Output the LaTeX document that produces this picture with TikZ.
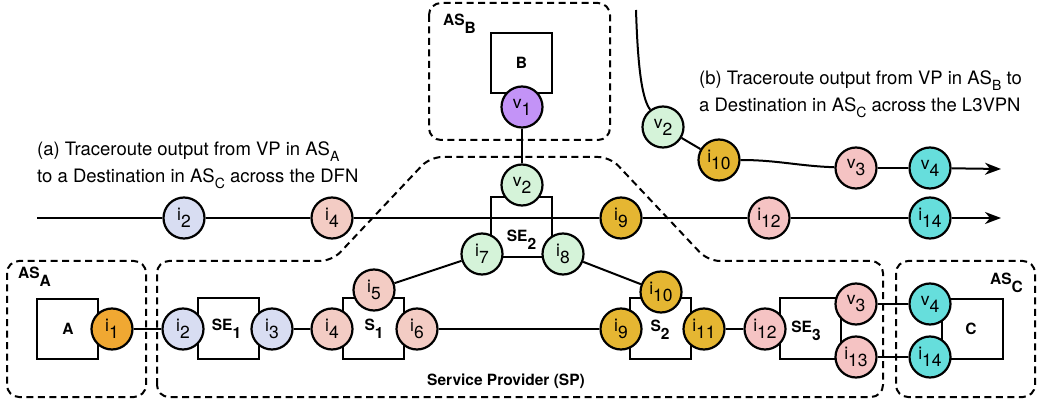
\documentclass[tikz,border=0pt]{standalone}
\usepackage{fontspec}
\setmainfont{TeX Gyre Heros}
\usetikzlibrary{arrows.meta}
\definecolor{cOrange}{HTML}{F0A832}
\definecolor{cBlue}{HTML}{D8DDF2}
\definecolor{cSalmon}{HTML}{F3CCC4}
\definecolor{cPurple}{HTML}{C393F7}
\definecolor{cGreen}{HTML}{D5F3D9}
\definecolor{cGold}{HTML}{E5B632}
\definecolor{cPink}{HTML}{F5C3C3}
\definecolor{cCyan}{HTML}{66DEDC}
\newcommand\lsub[1]{\raisebox{-8pt}{#1}}
\newcommand\hsub[1]{\raisebox{-7pt}{#1}}
\newcommand\csub[1]{\raisebox{-5.5pt}{\fontsize{14}{14}\selectfont #1}}
\begin{document}
\begin{tikzpicture}[x=1pt,y=-1pt,
  hop/.style={circle, draw, line width=2.2pt, minimum size=41pt, inner sep=0pt, font=\fontsize{17.5}{17.5}\selectfont},
  dev/.style={draw, line width=2pt, minimum width=61pt, minimum height=60pt, inner sep=0pt},
  asbox/.style={draw, dash pattern=on 7pt off 4.5pt, line width=2pt, rounded corners=12pt},
  lbl/.style={font=\bfseries\fontsize{15.5}{15.5}\selectfont, inner sep=0pt},
  captxt/.style={font=\fontsize{18.5}{18.5}\selectfont, inner sep=0pt, anchor=base west},
  link/.style={line width=2pt},
  arr/.style={line width=2pt, -{Stealth[length=16pt,width=12pt,inset=5pt]}}]
\useasboundingbox (0,0) rectangle (1044,403);

% dashed regions
\draw[asbox] (7,261) rectangle (146,397);
\draw[asbox] (896,261) rectangle (1035,397);
\draw[asbox] (429,3) rectangle (610,140);
\draw[asbox] (157,397) -- (157,261) -- (332,261) -- (430,157) -- (610,157) -- (708,261) -- (883,261) -- (883,397) -- cycle;

\node[lbl, anchor=base west] (lasa) at (18,279) {AS\lsub{A}};
\node[lbl, anchor=base west] (lasb) at (443,26) {AS\lsub{B}};
\node[lbl, anchor=base west] (lasc) at (990,285) {AS\lsub{C}};
\node[lbl] (lsp) at (506,381) {Service Provider (SP)};

% devices
\node[dev] (boxA) at (67.5,329) {};
\node[dev] (boxB) at (521.5,63) {};
\node[dev] (boxSE1) at (228,328.5) {};
\node[dev] (boxS1) at (373.5,328.5) {};
\node[dev] (boxSE2) at (521.5,227) {};
\node[dev] (boxS2) at (660.5,328.5) {};
\node[dev] (boxSE3) at (810,328.5) {};
\node[dev] (boxC) at (972.5,329) {};

\node[lbl] (tA) at (68,329) {A};
\node[lbl] (tB) at (521.5,63) {B};
\node[lbl] (tC) at (971,329) {C};
\node[lbl] (tSE1) at (226.5,329) {SE\lsub{1}};
\node[lbl] (tS1) at (374,329) {S\lsub{1}};
\node[lbl] (tSE2) at (521.5,240) {SE\lsub{2}};
\node[lbl] (tS2) at (660,330) {S\lsub{2}};
\node[lbl] (tSE3) at (806,331) {SE\lsub{3}};

% bottom row hops
\node[hop, fill=cOrange] (i1) at (112,329) {i\hsub{1}};
\node[hop, fill=cBlue] (i2) at (183,329) {i\hsub{2}};
\node[hop, fill=cBlue] (i3) at (272,329) {i\hsub{3}};
\node[hop, fill=cSalmon] (i4) at (332,329) {i\hsub{4}};
\node[hop, fill=cSalmon] (i5) at (374,290) {i\hsub{5}};
\node[hop, fill=cSalmon] (i6) at (417,329) {i\hsub{6}};
\node[hop, fill=cPurple] (v1) at (522,107) {v\hsub{1}};
\node[hop, fill=cGreen] (v2) at (522,185) {v\hsub{2}};
\node[hop, fill=cGreen] (i7) at (482,254) {i\hsub{7}};
\node[hop, fill=cGreen] (i8) at (563,254) {i\hsub{8}};
\node[hop, fill=cGold] (i9) at (621,329) {i\hsub{9}};
\node[hop, fill=cGold] (i10) at (661,292) {i\hsub{10}};
\node[hop, fill=cGold] (i11) at (704,329) {i\hsub{11}};
\node[hop, fill=cPink] (i12) at (765,329) {i\hsub{12}};
\node[hop, fill=cPink] (v3) at (856,304) {v\hsub{3}};
\node[hop, fill=cPink] (i13) at (856,357) {i\hsub{13}};
\node[hop, fill=cCyan] (v4) at (930,304) {v\hsub{4}};
\node[hop, fill=cCyan] (i14) at (930,357) {i\hsub{14}};

\draw[link] (i1) -- (i2);
\draw[link] (i3) -- (i4);
\draw[link] (i6) -- (i9);
\draw[link] (i11) -- (i12);
\draw[link] (v3) -- (v4);
\draw[link] (i13) -- (i14);
\draw[link] (i5) -- (i7);
\draw[link] (i8) -- (i10);
\draw[link] (v1) -- (v2);

% traceroute (a)
\node[captxt] (capa1) at (37,156) {(a) Traceroute output from VP in AS\csub{A}};
\node[captxt] (capa2) at (37,182.7) {to a Destination in AS\csub{C} across the DFN};
\coordinate (aS) at (37,218);
\coordinate (aE) at (1001,218);
\node[hop, fill=cBlue] (ai2) at (184,218) {i\hsub{2}};
\node[hop, fill=cSalmon] (ai4) at (332,218) {i\hsub{4}};
\node[hop, fill=cGold] (ai9) at (621,218) {i\hsub{9}};
\node[hop, fill=cPink] (ai12) at (769,218) {i\hsub{12}};
\node[hop, fill=cCyan] (ai14) at (930,218) {i\hsub{14}};
\draw[link] (aS) -- (ai2) -- (ai4) -- (ai9) -- (ai12) -- (ai14);
\draw[arr] (ai14) -- (aE);

% traceroute (b)
\node[captxt] (capb1) at (699,85) {(b) Traceroute output from VP in AS\csub{B} to};
\node[captxt] (capb2) at (699,111.7) {a Destination in AS\csub{C} across the L3VPN};
\coordinate (bS) at (636,10);
\coordinate (bE) at (1001,169);
\node[hop, fill=cGreen] (bv2) at (663,127) {v\hsub{2}};
\node[hop, fill=cGold] (bi10) at (719,160) {i\hsub{10}};
\node[hop, fill=cPink] (bv3) at (856,168) {v\hsub{3}};
\node[hop, fill=cCyan] (bv4) at (930,168) {v\hsub{4}};
\draw[link] (bS) .. controls (638,75) and (643,100) .. (bv2);
\draw[link] (bv2) -- (bi10);
\draw[link] (bi10) to[out=0,in=178] (bv3);
\draw[link] (bv3) -- (bv4);
\draw[arr] (bv4) -- (bE);
\end{tikzpicture}
\end{document}
